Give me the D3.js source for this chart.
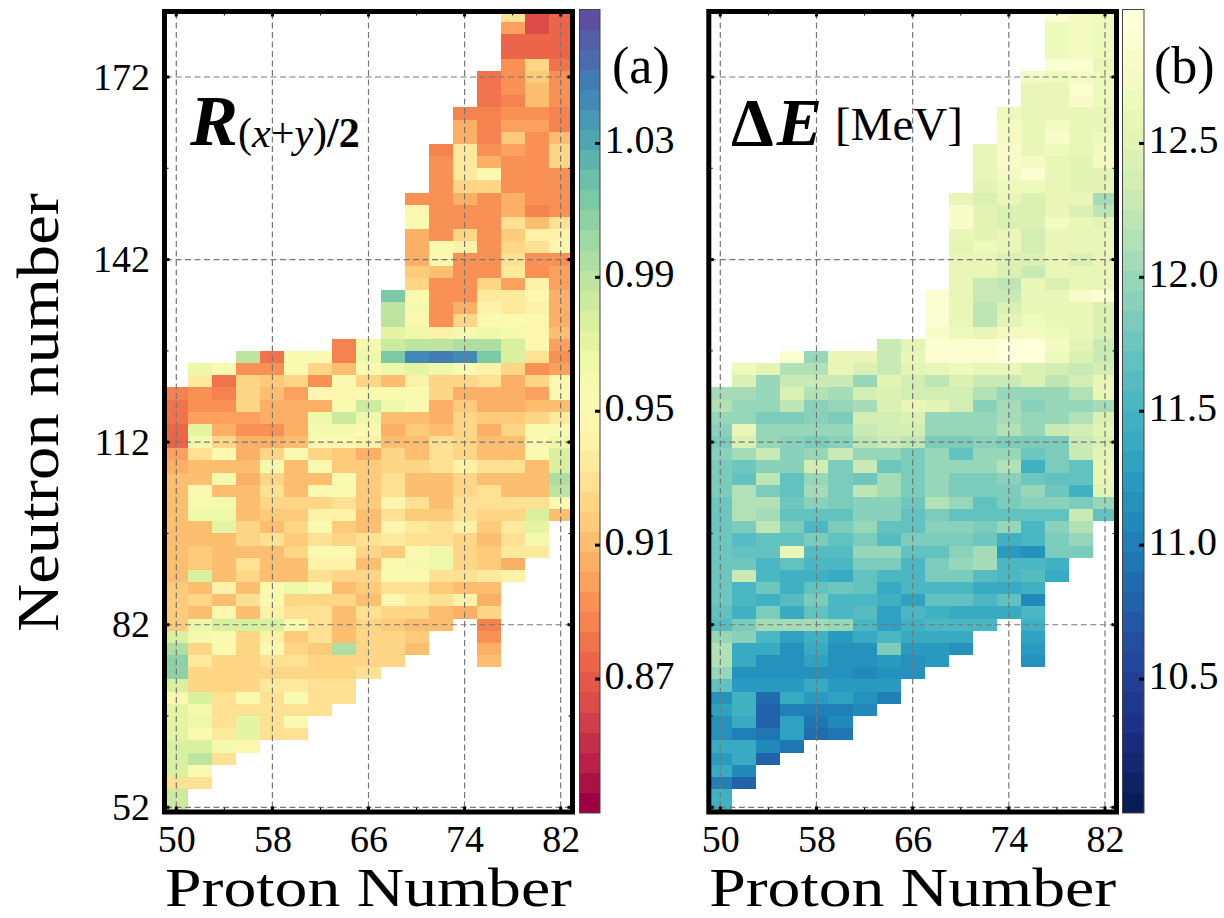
<!DOCTYPE HTML>
<html>
<head>
    <title>Nuclear chart panels</title>
    <style type="text/css">
        body { margin: 0; background: #fff; overflow: hidden; }
        svg text { font-family: 'Liberation Serif', serif; fill: #000; }
        .cell { shape-rendering: crispEdges; }
    </style>
</head>
<body>
    <div id="container"></div>
    <script src="https://cdn.jsdelivr.net/npm/d3@7/dist/d3.min.js"></script>
    <script type="text/javascript">

        var neutronTicks = [52, 82, 112, 142, 172];
        var neutronMinor = [67, 97, 127, 157];
        var protonTicks = [50, 58, 66, 74, 82];
        var protonMinor = [54, 62, 70, 78];
        var ratioTicks = [0.87, 0.91, 0.95, 0.99, 1.03];
        var energyTicks = [10.5, 11.0, 11.5, 12.0, 12.5];

        // neutron number of every row, top to bottom, and the proton number of its first cell
        var rowN = [182, 180, 178, 176, 174, 172, 170, 168, 166, 164, 162, 160, 158, 156, 154, 152, 150, 148, 146, 144, 142, 140, 138, 136, 134, 132, 130, 128, 126, 124, 122, 120, 118, 116, 114, 112, 110, 108, 106, 104, 102, 100, 98, 96, 94, 92, 90, 88, 86, 84, 82, 80, 78, 76, 74, 72, 70, 68, 66, 64, 62, 60, 58, 56, 54, 52];
        var rowFirstZ = [78, 78, 78, 78, 78, 76, 76, 76, 74, 74, 74, 72, 72, 72, 72, 70, 70, 70, 70, 70, 70, 70, 70, 68, 68, 68, 68, 64, 56, 52, 52, 50, 50, 50, 50, 50, 50, 50, 50, 50, 50, 50, 50, 50, 50, 50, 50, 50, 50, 50, 50, 50, 50, 50, 50, 50, 50, 50, 50, 50, 50, 50, 50, 50, 50, 50];

        var ratioRows = [
            [.93, .865, .872],
            [.90, .865, .875],
            [.875, .875, .875],
            [.875, .875, .875],
            [.89, .92, .88],
            [.88, .89, .915, .89],
            [.88, .89, .91, .89],
            [.88, .885, .91, .89],
            [.885, .885, .89, .89, .885],
            [.905, .885, .90, .90, .885],
            [.905, .885, .915, .89, .91],
            [.885, .935, .89, .90, .89, .92],
            [.89, .935, .905, .89, .89, .925],
            [.89, .935, .95, .89, .89, .89],
            [.89, .925, .925, .89, .89, .895],
            [.89, .89, .905, .89, .905, .895, .895],
            [.945, .89, .89, .895, .905, .885, .895],
            [.95, .89, .89, .895, .93, .91, .93],
            [.905, .895, .925, .895, .915, .94, .94],
            [.905, .95, .94, .895, .925, .93, .945],
            [.905, .945, .89, .89, .93, .89, .895],
            [.915, .91, .89, .895, .935, .895, .90],
            [.925, .895, .89, .925, .90, .94, .90],
            [1.015, .95, .895, .895, .935, .935, .945, .905],
            [.99, .96, .895, .905, .94, .935, .94, .905],
            [.99, .945, .895, .925, .955, .955, .945, .905],
            [.97, .965, .94, .96, .965, .96, .945, .91],
            [.885, .96, .985, .99, .99, .995, .995, .975, .945, .90],
            [.99, .88, .955, .955, .885, .965, 1.01, 1.045, 1.05, 1.04, 1.01, .975, .93, .895],
            [.965, .955, .89, .89, .955, .925, .91, .955, .965, .97, .965, .955, .94, .925, .89, .90],
            [.935, .88, .92, .915, .925, .895, .95, .925, .91, .94, .925, .92, .93, .905, .92, .945],
            [.885, .893, .885, .925, .91, .90, .945, .945, .95, .95, .955, .925, .905, .905, .905, .90, .95],
            [.88, .895, .895, .925, .905, .905, .905, .955, .985, .965, .955, .905, .915, .905, .905, .91, .91],
            [.88, .90, .90, .90, .905, .905, .965, .985, .965, .91, .91, .905, .925, .915, .915, .92, .935],
            [.875, .97, .905, .895, .895, .905, .96, .96, .955, .905, .915, .91, .925, .905, .92, .95, .955],
            [.875, .96, .922, .903, .903, .908, .945, .945, .94, .908, .912, .928, .922, .912, .912, .95, .965],
            [.897, .928, .95, .903, .922, .955, .922, .917, .903, .922, .908, .928, .922, .908, .908, .955, .975],
            [.903, .912, .912, .908, .96, .912, .955, .917, .917, .925, .925, .93, .94, .928, .928, .908, .98],
            [.908, .908, .96, .903, .922, .912, .908, .955, .917, .928, .912, .912, .925, .912, .912, .908, .995],
            [.908, .95, .912, .908, .93, .912, .95, .95, .917, .93, .912, .912, .925, .93, .908, .908, .99],
            [.908, .96, .96, .908, .922, .922, .925, .93, .917, .945, .928, .912, .928, .93, .928, .928, .955],
            [.908, .965, .965, .912, .917, .917, .94, .94, .912, .93, .917, .917, .928, .922, .922, .975, .912],
            [.908, .912, .97, .922, .912, .925, .95, .917, .912, .945, .935, .93, .94, .917, .935, .97],
            [.908, .912, .912, .922, .928, .917, .93, .922, .93, .935, .928, .928, .922, .908, .93, .96],
            [.912, .917, .908, .912, .912, .922, .95, .95, .922, .917, .95, .965, .922, .917, .935, .935],
            [.912, .917, .908, .928, .912, .912, .94, .94, .912, .95, .96, .965, .925, .917, .903],
            [.912, .975, .908, .922, .912, .912, .928, .922, .922, .95, .95, .928, .928, .935, .94],
            [.917, .912, .94, .912, .955, .965, .955, .912, .917, .928, .928, .917, .912, .908],
            [.917, .922, .908, .928, .955, .922, .922, .922, .908, .945, .935, .928, .94, .903],
            [.917, .908, .945, .908, .94, .928, .928, .908, .928, .922, .922, .912, .903, .925],
            [.917, .965, .975, .98, .98, .955, .93, .908, .922, .917, .912, .908, null, .885],
            [.975, .96, .95, .925, .94, .917, .928, .908, .922, .922, .917, null, null, .893],
            [.995, .925, .955, .922, .955, .922, .917, .995, .922, .922, .912, null, null, .905],
            [1.005, .935, .922, .922, .93, .93, .922, .922, .922, .922, null, null, null, .912],
            [1.005, .925, .922, .922, .922, .922, .922, .922, .928],
            [.98, .925, .925, .925, .935, .935, .928, .928],
            [.955, .975, .928, .95, .93, .95, .928, .928],
            [.97, .96, .928, .93, .928, .928, .928],
            [.97, .965, .928, .97, .928, .95],
            [.97, .95, .935, .97, .93, .928],
            [.98, .98, .96, .945],
            [.975, .99, .93],
            [.98, .955],
            [.93, .928],
            [.985],
            [.985]
        ];

        var energyRows = [
            [12.85, 12.75, 12.65],
            [12.65, 12.7, 12.65],
            [12.65, 12.7, 12.65],
            [12.65, 12.7, 12.65],
            [12.85, 12.85, 12.6],
            [12.7, 12.65, 12.75, 12.65],
            [12.6, 12.6, 12.85, 12.65],
            [12.6, 12.6, 12.8, 12.65],
            [12.65, 12.6, 12.6, 12.6, 12.6],
            [12.7, 12.6, 12.7, 12.6, 12.6],
            [12.75, 12.6, 12.8, 12.6, 12.65],
            [12.55, 12.8, 12.55, 12.65, 12.6, 12.7],
            [12.55, 12.8, 12.7, 12.55, 12.5, 12.7],
            [12.55, 12.75, 12.9, 12.55, 12.5, 12.5],
            [12.5, 12.65, 12.65, 12.55, 12.5, 12.5],
            [12.55, 12.45, 12.55, 12.45, 12.6, 12.55, 12.05],
            [12.8, 12.5, 12.45, 12.45, 12.6, 12.45, 12.2],
            [12.8, 12.5, 12.45, 12.4, 12.7, 12.55, 12.5],
            [12.55, 12.5, 12.6, 12.35, 12.55, 12.55, 12.6],
            [12.5, 12.65, 12.6, 12.35, 12.55, 12.55, 12.6],
            [12.55, 12.55, 12.4, 12.4, 12.55, 12.45, 12.55],
            [12.55, 12.55, 12.4, 12.3, 12.55, 12.55, 12.55],
            [12.55, 12.3, 12.2, 12.55, 12.4, 12.55, 12.6],
            [12.9, 12.55, 12.3, 12.25, 12.55, 12.55, 12.8, 12.85],
            [12.9, 12.55, 12.2, 12.4, 12.6, 12.6, 12.6, 12.45],
            [12.9, 12.55, 12.2, 12.5, 12.65, 12.6, 12.6, 12.45],
            [12.8, 12.65, 12.6, 12.7, 12.75, 12.65, 12.6, 12.45],
            [12.25, 12.5, 12.85, 12.85, 12.85, 12.95, 12.95, 12.7, 12.5, 12.3],
            [12.85, 12.0, 12.6, 12.6, 12.25, 12.55, 12.9, 12.9, 12.9, 12.95, 12.95, 12.65, 12.4, 12.3],
            [12.65, 12.5, 12.15, 12.1, 12.6, 12.4, 12.3, 12.5, 12.55, 12.65, 12.6, 12.55, 12.4, 12.35, 12.25, 12.35],
            [12.45, 12.0, 12.3, 12.25, 12.25, 11.95, 12.5, 12.35, 12.2, 12.4, 12.3, 12.3, 12.45, 12.2, 12.35, 12.6],
            [12.05, 12.05, 12.0, 12.4, 12.1, 12.05, 12.35, 12.4, 12.35, 12.35, 12.35, 12.15, 12.0, 12.0, 12.0, 12.15, 12.55],
            [12.15, 12.0, 12.0, 12.2, 11.9, 12.0, 12.05, 12.4, 12.6, 12.5, 12.35, 11.9, 12.05, 11.9, 12.0, 12.0, 12.05],
            [11.95, 11.95, 11.85, 11.85, 11.9, 11.85, 12.35, 12.35, 12.45, 11.95, 11.95, 11.95, 12.05, 12.0, 12.0, 12.1, 12.4],
            [11.9, 12.55, 12.0, 11.95, 12.0, 11.95, 12.3, 12.35, 12.35, 11.95, 11.95, 11.95, 12.1, 11.95, 12.3, 12.35, 12.5],
            [11.85, 12.45, 12.0, 11.9, 11.85, 11.9, 12.2, 12.25, 12.2, 11.85, 11.85, 11.9, 11.85, 11.85, 11.8, 12.25, 12.45],
            [11.9, 12.05, 12.3, 11.9, 11.95, 12.3, 12.0, 12.0, 11.8, 12.0, 11.65, 12.0, 11.95, 11.75, 11.85, 12.25, 12.5],
            [11.8, 11.75, 11.9, 11.9, 12.35, 11.8, 12.25, 11.75, 11.8, 12.0, 12.0, 12.0, 12.1, 11.45, 11.85, 11.7, 12.55],
            [11.8, 11.7, 12.2, 11.65, 11.95, 11.85, 11.75, 12.05, 11.8, 12.0, 11.8, 11.8, 11.9, 11.75, 11.65, 11.65, 12.55],
            [11.8, 12.1, 11.8, 11.7, 12.05, 11.85, 12.2, 12.05, 11.8, 12.0, 11.8, 11.8, 11.85, 12.0, 11.75, 11.45, 12.5],
            [11.75, 12.15, 12.15, 11.75, 11.9, 11.85, 11.9, 11.9, 11.75, 12.1, 11.95, 11.7, 11.8, 11.9, 11.9, 11.8, 11.95],
            [11.75, 12.15, 12.05, 11.65, 11.7, 11.65, 11.9, 11.9, 11.7, 11.8, 11.7, 11.65, 11.7, 11.65, 11.65, 12.25, 11.65],
            [11.75, 11.8, 12.2, 11.8, 11.5, 11.8, 12.0, 11.7, 11.65, 11.9, 11.9, 11.85, 11.95, 11.55, 11.9, 12.1],
            [11.75, 11.6, 11.65, 11.7, 11.8, 11.65, 11.8, 11.6, 11.8, 11.85, 11.8, 11.75, 11.45, 11.55, 11.85, 11.95],
            [11.75, 11.7, 11.65, 12.6, 11.6, 11.6, 11.95, 11.95, 11.65, 11.65, 11.9, 12.05, 11.2, 11.15, 11.85, 11.85],
            [11.75, 11.75, 11.5, 11.65, 11.5, 11.5, 11.8, 11.8, 11.55, 11.85, 11.95, 12.05, 11.5, 11.5, 11.45],
            [11.75, 12.3, 11.55, 11.45, 11.45, 11.4, 11.65, 11.5, 11.5, 11.85, 11.85, 11.6, 11.55, 11.6, 11.4],
            [11.75, 11.5, 11.75, 11.45, 11.7, 11.75, 11.7, 11.4, 11.5, 11.55, 11.55, 11.4, 11.4, 11.45],
            [11.75, 11.5, 11.45, 11.6, 11.8, 11.5, 11.5, 11.45, 11.3, 11.7, 11.65, 11.5, 11.65, 11.1],
            [11.7, 11.45, 11.8, 11.4, 11.7, 11.5, 11.6, 11.3, 11.5, 11.45, 11.4, 11.4, 11.4, 11.55],
            [11.6, 11.85, 12.05, 12.05, 12.05, 11.95, 11.55, 11.3, 11.45, 11.5, 11.5, 11.5, null, 11.45],
            [11.95, 11.9, 11.55, 11.3, 11.45, 11.25, 11.4, 11.5, 11.35, 11.35, 11.35, null, null, 11.3],
            [12.1, 11.35, 11.4, 11.15, 11.4, 11.15, 11.15, 11.8, 11.25, 11.25, 11.15, null, null, 11.2],
            [12.1, 11.35, 11.15, 11.15, 11.3, 11.15, 11.15, 11.2, 11.15, 11.25, null, null, null, 11.15],
            [12.0, 11.15, 11.15, 11.15, 11.15, 11.15, 11.05, 11.15, 11.15],
            [11.7, 11.2, 11.2, 11.2, 11.35, 11.2, 11.2, 11.2],
            [11.15, 11.45, 10.85, 11.35, 11.2, 11.3, 11.15, 11.0],
            [11.3, 11.45, 10.8, 11.0, 11.0, 11.0, 11.1],
            [11.15, 11.4, 10.8, 11.3, 10.9, 11.1],
            [11.15, 11.0, 10.9, 11.3, 10.85, 10.95],
            [11.35, 11.35, 11.1, 10.95],
            [11.2, 11.35, 10.8],
            [11.35, 11.05],
            [11.0, 10.75],
            [11.45],
            [11.45]
        ];

        var width = 1224, height = 918;
        var plotTop = 13, plotBottom = 810;
        var barTop = 9.5, barBottom = 813;
        var bandCount = 40;

        var chart = d3.select('#container').append('svg:svg')
            .attr('width', width).attr('height', height);
        var defs = chart.append('defs');

        var y = d3.scaleLinear().domain([52, 172]).range([807.3, 77]);

        function drawPanel(id, left, right, x50, x82, rows, color) {
            var x = d3.scaleLinear().domain([50, 82]).range([x50, x82]);
            var g = chart.append('g');

            defs.append('clipPath').attr('id', id)
                .append('rect').attr('x', left).attr('y', plotTop)
                .attr('width', right - left).attr('height', plotBottom - plotTop);

            var cells = g.append('g').attr('clip-path', 'url(#' + id + ')');
            rows.forEach(function (values, i) {
                values.forEach(function (v, j) {
                    if (v === null) return;
                    var z = rowFirstZ[i] + 2 * j, n = rowN[i];
                    cells.append('rect').attr('class', 'cell')
                        .attr('x', x(z - 1)).attr('y', y(n + 1))
                        .attr('width', x(z + 1) - x(z - 1))
                        .attr('height', y(n - 1) - y(n + 1))
                        .attr('fill', color(v));
                });
            });

            // dashed grid
            var grid = g.append('g').attr('stroke', '#777').attr('stroke-width', 1.2)
                .attr('stroke-dasharray', '6 3.5');
            protonTicks.forEach(function (t) {
                grid.append('line').attr('x1', x(t)).attr('x2', x(t)).attr('y1', plotTop).attr('y2', plotBottom);
            });
            neutronTicks.forEach(function (t) {
                grid.append('line').attr('x1', left).attr('x2', right).attr('y1', y(t)).attr('y2', y(t));
            });

            // ticks on all four sides
            var ticks = g.append('g').attr('stroke', '#000');
            function tickPair(values, size, w) {
                values.forEach(function (t) {
                    [[x(t), plotBottom, x(t), plotBottom - size], [x(t), plotTop, x(t), plotTop + size]].forEach(function (p) {
                        ticks.append('line').attr('x1', p[0]).attr('y1', p[1]).attr('x2', p[2]).attr('y2', p[3]).attr('stroke-width', w);
                    });
                });
            }
            tickPair(protonTicks, 3.5, 3);
            tickPair(protonMinor, 2.5, 1);
            neutronTicks.concat(neutronMinor).forEach(function (t) {
                var major = neutronTicks.indexOf(t) >= 0;
                var size = major ? 3.5 : 2.5;
                ticks.append('line').attr('x1', left).attr('x2', left + size).attr('y1', y(t)).attr('y2', y(t)).attr('stroke-width', major ? 3 : 1);
                ticks.append('line').attr('x1', right).attr('x2', right - size).attr('y1', y(t)).attr('y2', y(t)).attr('stroke-width', major ? 3 : 1);
            });

            g.append('rect').attr('x', left - 1.5).attr('y', plotTop - 1.5)
                .attr('width', right - left + 3).attr('height', plotBottom - plotTop + 3.5)
                .attr('fill', 'none').attr('stroke', '#000').attr('stroke-width', 5);

            var xAxis = d3.axisBottom(x).tickValues(protonTicks).tickSize(0).tickPadding(0);
            var axisG = g.append('g').attr('transform', 'translate(0,' + 852 + ')').call(xAxis);
            axisG.select('.domain').remove();
            axisG.selectAll('text').attr('dy', 0).style('font-size', '38px').attr('y', 0);

            // the font is narrower than the original, so the length is set from the picture
            g.append('text').attr('x', (left + right) / 2).attr('y', 906)
                .attr('text-anchor', 'middle').attr('font-size', 54)
                .attr('textLength', 407).attr('lengthAdjust', 'spacingAndGlyphs').text('Proton Number');
            return x;
        }

        function drawBar(left, right, scale, color, ticksList, fmt) {
            var barY = scale.copy().range([barBottom, barTop]);
            var d0 = scale.domain()[0], d1 = scale.domain()[1];
            var step = (d1 - d0) / bandCount;
            var bar = chart.append('g');
            d3.range(bandCount).forEach(function (i) {
                var lo = d0 + i * step;
                bar.append('rect').attr('class', 'cell').attr('x', left).attr('width', right - left)
                    .attr('y', barY(lo + step)).attr('height', barY(lo) - barY(lo + step))
                    .attr('fill', color(lo + step / 2));
            });
            bar.append('rect').attr('x', left).attr('y', barTop).attr('width', right - left)
                .attr('height', barBottom - barTop).attr('fill', 'none').attr('stroke', '#444').attr('stroke-width', 1);
            ticksList.forEach(function (t) {
                bar.append('line').attr('x1', right).attr('x2', right - 5).attr('y1', barY(t)).attr('y2', barY(t))
                    .attr('stroke', '#000').attr('stroke-width', 3);
                bar.append('text').attr('x', right + 4.5).attr('y', barY(t) + 9.5)
                    .attr('font-size', 40).text(fmt(t));
            });
        }

        var ratioColor = d3.scaleQuantize().domain([0.83, 1.07])
            .range(d3.quantize(d3.interpolateSpectral, bandCount));
        var energyColor = d3.scaleQuantize().domain([10, 13])
            .range(d3.quantize(function (t) { return d3.interpolateYlGnBu(1 - t); }, bandCount));

        drawPanel('clipA', 166, 571, 176.3, 560.7, ratioRows, ratioColor);
        drawPanel('clipB', 710.3, 1115, 720.3, 1105, energyRows, energyColor);

        drawBar(579.5, 600, d3.scaleLinear().domain([0.83, 1.07]), ratioColor, ratioTicks, d3.format('.2f'));
        drawBar(1122.5, 1144, d3.scaleLinear().domain([10, 13]), energyColor, energyTicks, d3.format('.1f'));

        // neutron axis labels on the left panel only
        var yAxis = d3.axisLeft(y).tickValues(neutronTicks).tickSize(0).tickPadding(0);
        var yAxisG = chart.append('g').attr('transform', 'translate(150,0)').call(yAxis);
        yAxisG.select('.domain').remove();
        yAxisG.selectAll('text').style('font-size', '38px').attr('x', 0).attr('dy', '0.32em');

        chart.append('text').attr('transform', 'translate(58,412.5) rotate(-90)')
            .attr('text-anchor', 'middle').attr('font-size', 60)
            .attr('textLength', 439).attr('lengthAdjust', 'spacingAndGlyphs').text('Neutron number');

        chart.append('text').attr('x', 612).attr('y', 83).attr('font-size', 52).text('(a)');
        chart.append('text').attr('x', 1154).attr('y', 83).attr('font-size', 52).text('(b)');

        var t1 = chart.append('text').attr('x', 190).attr('y', 145);
        t1.append('tspan').attr('font-size', 72).attr('font-weight', 'bold').attr('font-style', 'italic').text('R');
        t1.append('tspan').attr('font-size', 42).attr('dy', 2).text('(');
        t1.append('tspan').attr('font-size', 42).attr('font-style', 'italic').text('x');
        t1.append('tspan').attr('font-size', 42).text('+');
        t1.append('tspan').attr('font-size', 42).attr('font-style', 'italic').text('y');
        t1.append('tspan').attr('font-size', 42).text(')');
        t1.append('tspan').attr('font-size', 42).attr('font-weight', 'bold').text('/2');

        var t2 = chart.append('text').attr('x', 731).attr('y', 145);
        t2.append('tspan').attr('font-size', 68).attr('font-weight', 'bold').text('\u0394');
        t2.append('tspan').attr('font-size', 68).attr('font-weight', 'bold').attr('font-style', 'italic').attr('dx', 3).text('E');
        t2.append('tspan').attr('font-size', 47).attr('dx', 13).attr('dy', -5).text('[MeV]');
    </script>
</body>
</html>
